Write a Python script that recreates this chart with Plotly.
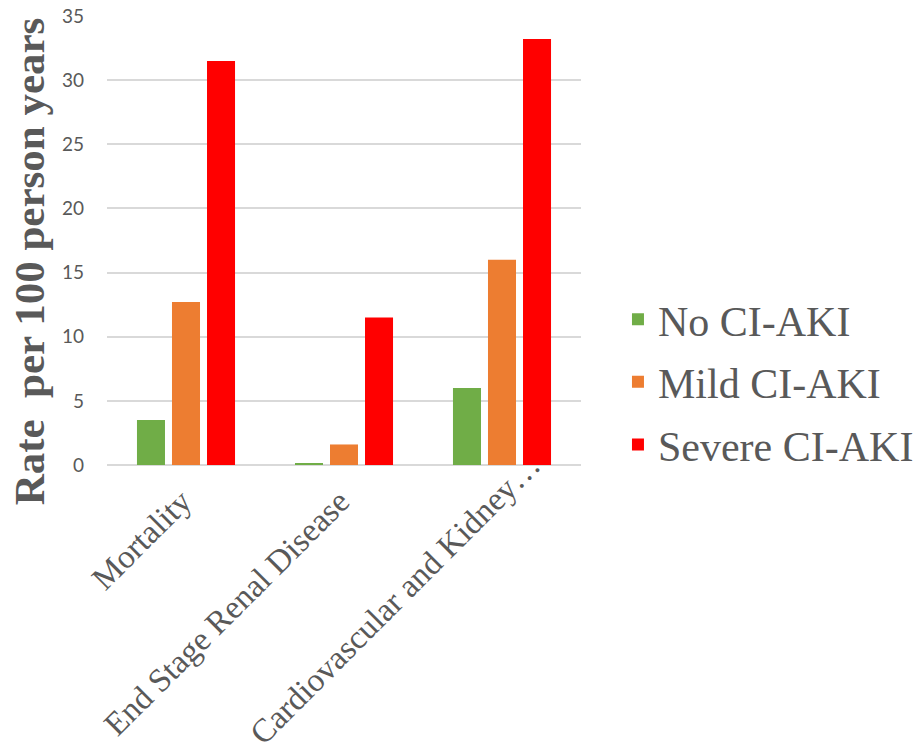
import plotly.graph_objects as go

categories = ["Mortality", "End Stage Renal Disease", "Cardiovascular and Kidney…"]
series_names = ["No CI-AKI", "Mild CI-AKI", "Severe CI-AKI"]
no_aki = [3.5, 0.1, 6.0]
mild_aki = [12.7, 1.6, 16.0]
severe_aki = [31.5, 11.5, 33.2]
colors = ["#70AD47", "#ED7D31", "#FF0000"]
y_ticks = [0, 5, 10, 15, 20, 25, 30, 35]
y_title = "Rate  per 100 person years"

fig = go.Figure()
for name, vals, col in zip(series_names, [no_aki, mild_aki, severe_aki], colors):
    fig.add_trace(go.Bar(
        x=categories, y=vals, name=name,
        marker=dict(color=col, line=dict(width=0)),
        legendgroup=name,
    ))

# category labels, rotated like the reference (per-label offsets only)
label_shifts = [(15, -15), (15, -15), (48, 21)]
annotations = []
for cat, (sx, sy) in zip(categories, label_shifts):
    annotations.append(dict(
        text=cat, x=cat, y=0, xref="x", yref="y",
        xanchor="right", yanchor="top", xshift=sx, yshift=sy,
        textangle=-45, showarrow=False,
        font=dict(family="Liberation Serif", size=33, color="#595959"),
    ))
annotations.append(dict(
    text="<b>" + y_title + "</b>",
    xref="paper", yref="paper",
    x=-0.163, y=0.453, xanchor="center", yanchor="middle",
    textangle=-90, showarrow=False,
    font=dict(family="Liberation Serif", size=43, color="#595959"),
))

fig.update_layout(
    width=918, height=748,
    margin=dict(l=107, r=337, t=16, b=283, autoexpand=False),
    paper_bgcolor="white", plot_bgcolor="white",
    barmode="group", bargap=0.335, bargroupgap=0.2,
    showlegend=True,
    legend=dict(
        x=1.078, xanchor="left", y=0.185, yanchor="middle",
        font=dict(family="Liberation Serif", size=42, color="#595959"),
        tracegroupgap=5,
        bgcolor="rgba(0,0,0,0)",
    ),
    xaxis=dict(
        range=[-0.5, 2.5], automargin=False, showticklabels=False,
        showgrid=False, showline=False, zeroline=False, ticks="",
    ),
    yaxis=dict(
        range=[0, 35], tickvals=y_ticks, automargin=False,
        tickfont=dict(family="Lato", size=19, color="#595959"),
        showgrid=True, gridcolor="#D9D9D9", gridwidth=1.5,
        zeroline=True, zerolinecolor="#D9D9D9", zerolinewidth=1.5,
        showline=False, ticks="", ticklabelstandoff=22,
    ),
    annotations=annotations,
)

fig.write_html("out.html")
